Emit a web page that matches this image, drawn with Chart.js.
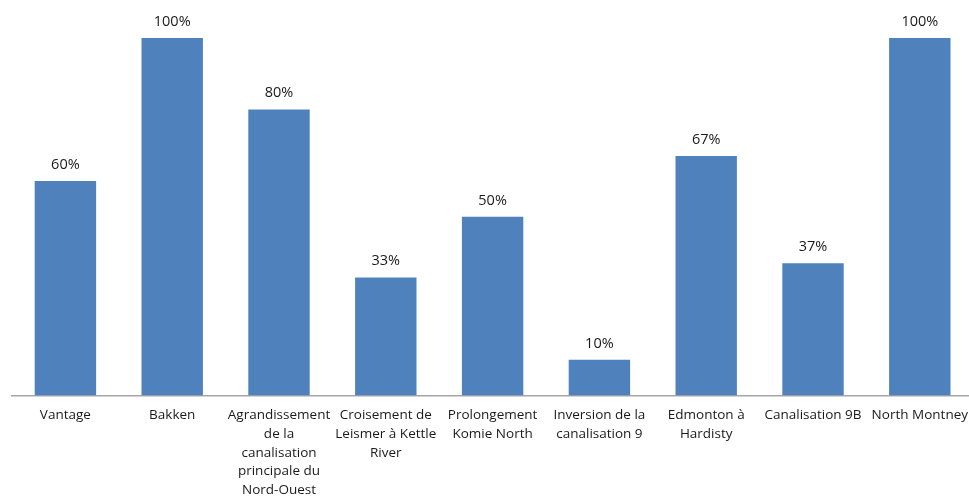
<!DOCTYPE html>
<html>
<head>
<meta charset="utf-8">
<script src="https://cdn.jsdelivr.net/npm/chart.js@4.4.1/dist/chart.umd.min.js"></script>
<style>
  html, body { margin: 0; padding: 0; background: #fff; overflow: hidden; }
  #wrap { width: 978px; height: 496px; }
</style>
</head>
<body>
<div id="wrap"><canvas id="chart"></canvas></div>
<script>
// Project names (wrapped the same way as in the picture)
const projectLabels = [
    ['Vantage'],
    ['Bakken'],
    ['Agrandissement', 'de la', 'canalisation', 'principale du', 'Nord-Ouest'],
    ['Croisement de', 'Leismer à Kettle', 'River'],
    ['Prolongement', 'Komie North'],
    ['Inversion de la', 'canalisation 9'],
    ['Edmonton à', 'Hardisty'],
    ['Canalisation 9B'],
    ['North Montney']
];

// Percentage per project
const percentValues = [60, 100, 80, 33, 50, 10, 67, 37, 100];

// Draws the "NN%" label above each bar
const valueLabelPlugin = {
    id: 'valueLabels',
    afterDatasetsDraw(chart) {
        const ctx = chart.ctx;
        const meta = chart.getDatasetMeta(0);
        ctx.save();
        ctx.font = '14.5px "Open Sans", sans-serif';
        ctx.fillStyle = '#1a1a1a';
        ctx.textAlign = 'center';
        ctx.textBaseline = 'bottom';
        meta.data.forEach((bar, i) => {
            ctx.fillText(percentValues[i] + '%', bar.x, bar.y - 9);
        });
        ctx.restore();
    }
};

new Chart(document.getElementById('chart'), {
    type: 'bar',
    data: {
        labels: projectLabels,
        datasets: [{
            data: percentValues,
            backgroundColor: '#4F81BD',
            barPercentage: 0.575,
            categoryPercentage: 1.0
        }]
    },
    options: {
        responsive: true,
        maintainAspectRatio: false,
        animation: false,
        layout: { padding: { left: 12, right: 0, top: 38, bottom: -14 } },
        plugins: {
            legend: { display: false },
            tooltip: { enabled: false }
        },
        scales: {
            x: {
                grid: { display: false, drawTicks: false },
                border: { display: true, color: '#a6a6a6', width: 1.5 },
                ticks: {
                    color: '#1a1a1a',
                    padding: 10,
                    maxRotation: 0,
                    autoSkip: false,
                    font: { family: '"Open Sans", sans-serif', size: 13.5, lineHeight: 1.4 }
                }
            },
            y: {
                display: false,
                min: 0,
                max: 100
            }
        }
    },
    plugins: [valueLabelPlugin]
});
</script>
</body>
</html>
